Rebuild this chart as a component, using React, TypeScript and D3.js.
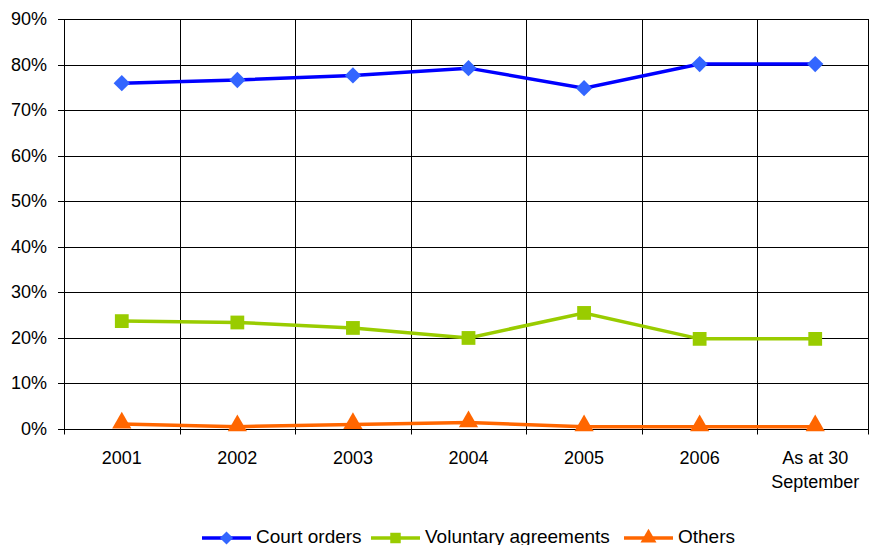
import React from 'react';
import * as d3 from 'd3';

const categories = ['2001', '2002', '2003', '2004', '2005', '2006', 'As at 30\nSeptember'];
const courtOrders = [75.9, 76.6, 77.6, 79.2, 74.8, 80.1, 80.1];
const voluntaryAgreements = [23.6, 23.3, 22.1, 19.9, 25.4, 19.7, 19.7];
const others = [1.0, 0.4, 0.9, 1.3, 0.4, 0.4, 0.4];
const yTicks = [0, 10, 20, 30, 40, 50, 60, 70, 80, 90];

const series = [
  { name: 'Court orders', values: courtOrders, line: '#0000FF', marker: '#3366FF', shape: 'diamond' },
  { name: 'Voluntary agreements', values: voluntaryAgreements, line: '#99CC00', marker: '#99CC00', shape: 'square' },
  { name: 'Others', values: others, line: '#FF6600', marker: '#FF6600', shape: 'triangle' },
];

const W = 869;
const H = 545;
const margin = { top: 19, right: -4, bottom: 116.5, left: 64 };

function markerPath(shape: string, size: number) {
  const sym =
    shape === 'diamond' ? d3.symbolDiamond2 : shape === 'square' ? d3.symbolSquare : d3.symbolTriangle;
  return d3.symbol(sym, size)()!;
}

export default function App() {
  const x = d3
    .scaleBand<string>()
    .domain(categories)
    .range([margin.left, W - margin.right]);
  const y = d3
    .scaleLinear()
    .domain([0, 90])
    .range([H - margin.bottom, margin.top]);
  const cx = (c: string) => (x(c) || 0) + x.bandwidth() / 2;

  const line = d3
    .line<number>()
    .x((_, i) => cx(categories[i]))
    .y((d) => y(d));

  const font = 'Arial, "Liberation Sans", sans-serif';
  // legend entries: line start and text start
  const legendItems = [
    { s: series[0], x: 202, tx: 256 },
    { s: series[1], x: 371, tx: 425 },
    { s: series[2], x: 624, tx: 678 },
  ];

  return (
    <svg width={W} height={H} style={{ position: 'absolute', left: 0, top: 0 }} fontFamily={font}>
      <rect width={W} height={H} fill="#fff" />
      {/* horizontal grid */}
      {yTicks.map((t) => (
        <g key={t}>
          <line x1={margin.left - 6} x2={W - margin.right} y1={Math.round(y(t)) + 0.5} y2={Math.round(y(t)) + 0.5} stroke="#000" strokeWidth={1} />
          <text x={47} y={y(t)} dy="0.36em" textAnchor="end" fontSize={18} fill="#000">
            {t}%
          </text>
        </g>
      ))}
      {/* vertical grid */}
      {categories.map((c) => (
        <line
          key={c}
          x1={Math.round(x(c) || 0) + 0.5}
          x2={Math.round(x(c) || 0) + 0.5}
          y1={margin.top}
          y2={y(0) + 6}
          stroke="#000"
          strokeWidth={1}
        />
      ))}
      <line x1={W - 0.5} x2={W - 0.5} y1={margin.top} y2={y(0) + 6} stroke="#000" />
      {/* x labels */}
      {categories.map((c) => (
        <text key={c} x={cx(c)} y={464} textAnchor="middle" fontSize={18} fill="#000">
          {c.split('\n').map((l, i) => (
            <tspan key={i} x={cx(c)} dy={i === 0 ? 0 : 24}>
              {l}
            </tspan>
          ))}
        </text>
      ))}
      {/* series */}
      {series.map((s) => (
        <g key={s.name}>
          <path d={line(s.values)!} fill="none" stroke={s.line} strokeWidth={3.5} />
          {s.values.map((v, i) => (
            <path
              key={i}
              d={markerPath(s.shape, s.shape === 'diamond' ? 170 : s.shape === 'square' ? 190 : 160)}
              transform={`translate(${cx(categories[i])},${y(v) - (s.shape === 'triangle' ? 1 : 0)})`}
              fill={s.marker}
            />
          ))}
        </g>
      ))}
      {/* legend */}
      {legendItems.map(({ s, x: lx, tx }) => (
        <g key={s.name}>
          <line x1={lx} x2={lx + 49} y1={538} y2={538} stroke={s.line} strokeWidth={3.5} />
          <path d={markerPath(s.shape, 110)} transform={`translate(${lx + 24.5},538)`} fill={s.marker} />
          <text x={tx} y={542.5} fontSize={19} fill="#000">
            {s.name}
          </text>
        </g>
      ))}
    </svg>
  );
}
